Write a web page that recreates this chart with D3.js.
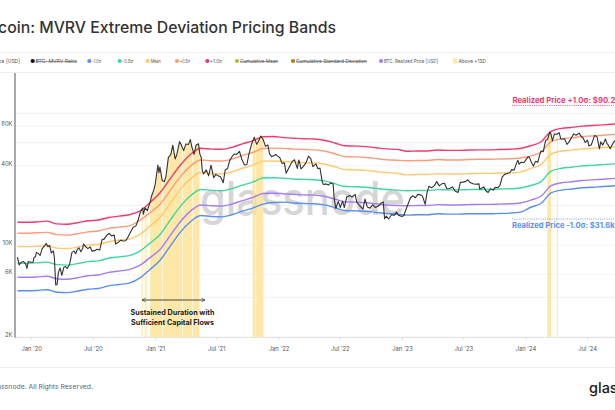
<!DOCTYPE html>
<html><head><meta charset="utf-8">
<script src="https://cdn.jsdelivr.net/npm/d3@7"></script>
<style>html,body{margin:0;padding:0;background:#fff;overflow:hidden}svg{display:block;font-family:Inter,"Noto Sans",sans-serif}</style>
</head><body><svg id="c" width="615" height="410"></svg>
<script>
// ---------------- DATA ----------------
const bandDates = ["2019-11-20","2019-12-15","2020-01-15","2020-02-15","2020-03-15","2020-04-15","2020-05-15","2020-06-15","2020-07-15","2020-08-15","2020-09-15","2020-10-15","2020-11-15","2020-12-15","2021-01-15","2021-02-15","2021-03-15","2021-04-15","2021-05-15","2021-06-15","2021-07-15","2021-08-15","2021-09-15","2021-10-15","2021-11-15","2021-12-15","2022-01-15","2022-02-15","2022-03-15","2022-04-15","2022-05-15","2022-06-15","2022-07-15","2022-08-15","2022-09-15","2022-10-15","2022-11-15","2022-12-15","2023-01-15","2023-02-15","2023-03-15","2023-04-15","2023-05-15","2023-06-15","2023-07-15","2023-08-15","2023-09-15","2023-10-15","2023-11-15","2023-12-15","2024-01-15","2024-02-15","2024-03-15","2024-04-15","2024-05-15","2024-06-15","2024-07-15","2024-08-15","2024-09-25"];
// values in thousands of USD
const realizedPrice = [5.70,5.69, 5.72,5.80,5.55,5.50,5.65,5.85,5.92,6.20,6.35,6.50,7.00,8.00, 9.30,12.0,15.0,18.2,20.2,19.9,19.8,20.5,21.8,23.0,24.7,24.8, 24.6,24.3,24.1,24.0,23.5,22.4,21.3,21.2,21.0,20.6,20.2,20.0, 19.9,20.0,20.0,20.3,20.2,20.2,20.3,20.4,20.4,20.5,20.6,20.9, 22.0,23.6,28.3,29.8,30.3,31.0,31.3,31.7,32.2];
const plus1Sd = [14.9,14.9, 15.0,15.2,14.5,14.4,14.8,15.3,15.5,16.2,16.6,17.0,18.1,21.0, 25.1,32.4,40.5,49.1,54.5,53.7,53.5,55.4,58.9,62.1,66.7,67.0, 65.7,64.9,64.3,64.1,62.7,59.8,56.9,56.6,56.1,55.0,53.9,53.4, 51.7,52.0,52.0,52.8,52.5,52.5,52.8,53.0,53.0,53.3,53.6,54.3, 57.0,61.1,73.3,77.2,78.5,80.3,81.1,82.1,83.4];
const plusHalfSd = [12.3,12.3, 12.4,12.5,12.0,11.9,12.2,12.6,12.8,13.4,13.7,14.0,15.4,17.6, 20.5,26.4,33.0,40.0,44.4,43.8,43.6,45.1,48.0,50.6,54.3,54.6, 54.4,53.7,53.3,53.0,51.9,49.5,47.1,46.9,46.4,45.5,44.6,44.2, 43.8,44.0,44.0,44.7,44.4,44.4,44.7,44.9,44.9,45.1,45.3,46.0, 47.5,51.0,61.1,64.4,65.4,67.0,67.6,68.5,69.6];
const meanBand = [9.75,9.73, 9.78,9.92,9.49,9.41,9.66,10.0,10.1,10.6,10.9,11.1,12.0,13.9, 16.3,21.1,26.4,32.0,35.6,35.0,34.8,36.1,38.4,40.5,43.5,43.6, 43.3,42.8,42.4,42.2,41.4,39.4,37.5,37.3,37.0,36.3,35.6,35.2, 34.2,34.4,34.4,34.9,34.7,34.7,34.9,35.1,35.1,35.3,35.4,35.9, 38.3,41.1,49.2,51.9,52.7,53.9,54.5,55.2,56.0];
const minusHalfSd = [7.30,7.28, 7.32,7.42,7.10,7.04,7.23,7.49,7.58,7.94,8.13,8.32,8.96,10.3, 12.1,15.7,19.6,23.8,26.5,26.1,25.9,26.9,28.6,30.1,32.4,32.5, 32.2,31.8,31.6,31.4,30.8,29.3,27.9,27.8,27.5,27.0,26.5,26.2, 25.9,26.0,26.0,26.4,26.3,26.3,26.4,26.5,26.5,26.7,26.8,27.2, 28.4,30.4,36.5,38.4,39.1,40.0,40.4,40.9,41.5];
const minus1Sd = [4.50,4.50, 4.52,4.58,4.38,4.35,4.46,4.62,4.68,4.90,5.02,5.14,5.60,6.50, 7.70,9.96,12.5,15.1,16.8,16.5,16.4,17.0,18.1,19.1,20.5,21.1, 21.2,20.9,20.7,20.6,20.2,19.3,18.3,18.2,18.1,17.7,17.4,17.2, 16.9,17.0,17.0,17.3,17.2,17.2,17.3,17.3,17.3,17.4,17.5,17.8, 19.4,20.8,24.9,26.2,26.7,27.3,27.5,27.9,28.3];

const priceDates = ["2019-11-20","2019-11-25","2019-12-01","2019-12-08","2019-12-15","2019-12-18","2019-12-22","2019-12-29",
"2020-01-05","2020-01-08","2020-01-12","2020-01-15","2020-01-20","2020-01-26","2020-02-01","2020-02-08","2020-02-13","2020-02-18","2020-02-23","2020-02-28","2020-03-05","2020-03-08","2020-03-12","2020-03-16","2020-03-20","2020-03-25","2020-03-30","2020-04-05","2020-04-10","2020-04-15","2020-04-22","2020-04-29","2020-05-05","2020-05-10","2020-05-15","2020-05-20","2020-05-25","2020-05-31","2020-06-02","2020-06-08","2020-06-15","2020-06-22","2020-06-27","2020-07-05","2020-07-12","2020-07-20","2020-07-27","2020-08-02","2020-08-10","2020-08-17","2020-08-24","2020-09-01","2020-09-05","2020-09-12","2020-09-20","2020-09-27","2020-10-05","2020-10-12","2020-10-21","2020-10-27","2020-11-04","2020-11-10","2020-11-17","2020-11-24","2020-11-26","2020-12-01","2020-12-08","2020-12-16","2020-12-20","2020-12-27","2020-12-31",
"2021-01-03","2021-01-08","2021-01-11","2021-01-14","2021-01-21","2021-01-27","2021-02-01","2021-02-08","2021-02-15","2021-02-21","2021-02-28","2021-03-05","2021-03-13","2021-03-18","2021-03-25","2021-04-01","2021-04-08","2021-04-14","2021-04-18","2021-04-25","2021-05-01","2021-05-08","2021-05-12","2021-05-16","2021-05-19","2021-05-23","2021-05-31","2021-06-07","2021-06-14","2021-06-22","2021-06-28","2021-07-05","2021-07-12","2021-07-20","2021-07-26","2021-08-02","2021-08-08","2021-08-15","2021-08-22","2021-08-29","2021-09-06","2021-09-13","2021-09-21","2021-09-28","2021-10-04","2021-10-11","2021-10-15","2021-10-20","2021-10-27","2021-11-01","2021-11-08","2021-11-15","2021-11-22","2021-11-29","2021-12-04","2021-12-10","2021-12-16","2021-12-22","2021-12-28",
"2022-01-03","2022-01-10","2022-01-17","2022-01-22","2022-01-28","2022-02-05","2022-02-10","2022-02-16","2022-02-24","2022-03-01","2022-03-07","2022-03-14","2022-03-22","2022-03-29","2022-04-05","2022-04-11","2022-04-20","2022-04-26","2022-05-02","2022-05-09","2022-05-12","2022-05-20","2022-05-27","2022-06-03","2022-06-10","2022-06-13","2022-06-18","2022-06-25","2022-07-01","2022-07-08","2022-07-13","2022-07-20","2022-07-28","2022-08-05","2022-08-14","2022-08-19","2022-08-27","2022-09-06","2022-09-12","2022-09-19","2022-09-27","2022-10-05","2022-10-13","2022-10-25","2022-10-29","2022-11-05","2022-11-09","2022-11-14","2022-11-21","2022-11-30","2022-12-07","2022-12-14","2022-12-20","2022-12-30",
"2023-01-05","2023-01-12","2023-01-18","2023-01-25","2023-02-01","2023-02-08","2023-02-15","2023-02-22","2023-03-01","2023-03-09","2023-03-14","2023-03-20","2023-03-28","2023-04-05","2023-04-12","2023-04-20","2023-04-28","2023-05-05","2023-05-12","2023-05-20","2023-05-29","2023-06-05","2023-06-14","2023-06-21","2023-06-28","2023-07-06","2023-07-13","2023-07-20","2023-07-28","2023-08-05","2023-08-15","2023-08-17","2023-08-29","2023-09-05","2023-09-11","2023-09-18","2023-09-26","2023-10-02","2023-10-10","2023-10-16","2023-10-23","2023-10-30","2023-11-06","2023-11-14","2023-11-20","2023-11-27","2023-12-04","2023-12-08","2023-12-11","2023-12-18","2023-12-26",
"2024-01-02","2024-01-08","2024-01-11","2024-01-16","2024-01-23","2024-01-29","2024-02-05","2024-02-09","2024-02-14","2024-02-21","2024-02-28","2024-03-05","2024-03-11","2024-03-14","2024-03-19","2024-03-25","2024-04-01","2024-04-08","2024-04-13","2024-04-19","2024-04-24","2024-05-01","2024-05-08","2024-05-15","2024-05-21","2024-05-28","2024-06-06","2024-06-13","2024-06-18","2024-06-24","2024-07-01","2024-07-05","2024-07-12","2024-07-18","2024-07-22","2024-07-29","2024-08-05","2024-08-09","2024-08-15","2024-08-23","2024-08-27","2024-09-01","2024-09-06","2024-09-12","2024-09-18","2024-09-25"];
const priceValues = [8.1,7.05,7.4,7.5,7.1,6.65,7.5,7.4,
7.4,8.05,8.15,8.8,8.65,8.35,9.4,9.85,10.3,9.7,9.95,8.7,9.05,8.05,4.97,5.03,6.2,6.7,5.88,6.78,6.87,6.64,7.13,8.8,9.0,8.6,9.3,9.52,8.9,9.45,10.2,9.75,9.4,9.68,9.0,9.07,9.3,9.16,11.0,11.1,11.9,12.3,11.75,11.9,10.2,10.45,10.9,10.75,10.8,11.55,12.8,13.65,14.0,15.3,17.8,19.15,17.15,19.2,18.3,21.3,23.5,26.3,29.0,
32.8,40.6,35.5,39.2,30.8,30.4,33.5,46.4,48.7,57.5,45.2,48.9,61.2,57.9,52.3,58.8,58.1,63.5,56.2,49.0,57.8,58.9,49.2,46.4,37.0,34.7,37.3,33.6,40.5,32.5,34.5,33.7,33.1,29.8,37.3,38.2,43.9,47.0,49.3,48.9,51.7,44.9,40.6,41.0,49.1,57.4,61.6,66.0,58.4,61.3,67.5,63.6,56.3,57.8,49.4,47.1,47.7,48.8,47.5,
46.4,41.8,42.2,35.1,37.7,41.4,43.5,44.5,38.3,44.4,38.0,39.7,42.4,47.4,45.5,39.5,41.5,38.1,38.5,30.1,28.9,29.2,28.6,29.7,29.1,22.5,19.0,21.5,19.3,21.6,19.3,23.2,23.8,23.2,24.3,21.1,20.0,18.8,22.4,19.5,19.1,20.3,19.3,20.1,20.8,21.3,15.9,16.6,15.8,17.1,16.8,17.8,16.9,16.5,
16.8,18.9,20.7,23.0,23.7,22.9,24.3,24.2,23.6,20.4,24.7,28.0,27.3,28.2,30.4,28.2,29.3,29.5,26.8,26.9,27.7,25.8,25.1,30.0,30.1,30.4,31.4,29.9,29.3,29.0,29.2,26.6,27.7,25.8,25.1,26.8,26.2,27.5,27.4,28.5,33.0,34.5,35.0,35.5,37.5,37.2,42.0,44.2,41.2,42.7,42.5,
45.0,47.0,46.6,43.1,39.9,43.3,42.7,47.1,51.8,51.3,62.5,63.8,72.1,71.4,62.0,70.0,69.7,71.6,64.0,64.0,64.3,58.3,61.2,66.0,70.1,68.4,71.0,66.7,65.2,60.3,62.7,56.7,57.9,64.0,68.2,66.8,54.0,60.9,57.6,64.1,59.4,57.3,53.9,58.1,61.7,63.2];

// periods where price was above +1 SD (shaded)
const aboveSdStart = ["2020-11-21","2020-11-30","2020-12-05","2020-12-16","2021-01-22","2021-03-23","2021-04-22","2021-10-15","2021-10-24","2024-03-04","2024-04-01"];
const aboveSdEnd   = ["2020-11-24","2020-12-02","2020-12-07","2021-01-20","2021-03-21","2021-04-20","2021-05-11","2021-10-22","2021-11-16","2024-03-15","2024-04-02"];

const xTickDates = ["2020-01-01","2020-07-01","2021-01-01","2021-07-01","2022-01-01","2022-07-01","2023-01-01","2023-07-01","2024-01-01","2024-07-01"];
const yTickValues = [2, 6, 10, 40, 80];
const yGridValues = [2, 4, 6, 10, 20, 40, 60, 80, 100];

const legendLabels = ["BTC: Price [USD]","BTC: MVRV Ratio","-1.0σ","-0.5σ","Mean","+0.5σ","+1.0σ","Cumulative Mean","Cumulative Standard Deviation","BTC: Realized Price [USD]","Above +1SD"];

// ---------------- STYLE / LAYOUT ----------------
const C = {red:"#f4396c", orange:"#ff9b78", yellow:"#ffc96e", green:"#3fd6a2", purple:"#a57df3", blue:"#5b8ff0", price:"#333", shade:"#fde59f"};
const legendColors = ["#333","#111",C.blue,C.green,C.yellow,C.orange,C.red,"#a9c42b","#b27a25",C.purple,"#fdeab0"];
const legendDotX  = [-25,32.7,89.3,119.7,147.7,177,207.3,237,293,381,455.3];
const legendTextX = [-20,35.5,92,122.3,150.7,179.7,210,240,296,384,458.5];
const legendTextW = [40,41.5,9,11,10,10.3,12,38,71,54,27.5];
const legendStrike = [false,true,false,false,false,false,false,true,true,false,false];

const svg = d3.select("#c");
const pd = s => new Date(s + "T00:00:00Z");
const x = d3.scaleUtc().domain([pd("2020-01-01"), pd("2024-01-01")]).range([31.7, 526]);
const y = d3.scaleLog().domain([2, 200]).range([337, 74]);
const L = 15, R = 615, T = 74, B = 337;

// Title
svg.append("text").attr("x", 336).attr("y", 33).attr("text-anchor","end")
  .attr("font-size", 15.8).attr("font-weight", 500).attr("fill", "#333")
  .text("Bitcoin: MVRV Extreme Deviation Pricing Bands");

// Separators
svg.append("line").attr("x1",0).attr("x2",615).attr("y1",52.5).attr("y2",52.5).attr("stroke","#eee");
svg.append("line").attr("x1",0).attr("x2",615).attr("y1",72.5).attr("y2",72.5).attr("stroke","#eee");
svg.append("line").attr("x1",0).attr("x2",615).attr("y1",367.5).attr("y2",367.5).attr("stroke","#eee");

// Legend
const lg = svg.append("g").attr("font-size", 5.4).attr("fill", "#555");
legendLabels.forEach((lab, i) => {
  const cx = legendDotX[i];
  if (i === legendLabels.length - 1) {
    lg.append("rect").attr("x", cx - 2.5).attr("y", 58.5).attr("width", 5).attr("height", 5).attr("fill", legendColors[i]);
  } else {
    lg.append("circle").attr("cx", cx).attr("cy", 61).attr("r", 2.1).attr("fill", legendColors[i]);
  }
  const t = lg.append("text").attr("x", legendTextX[i]).attr("y", 63)
    .attr("textLength", legendTextW[i]).attr("lengthAdjust", "spacingAndGlyphs").text(lab);
  if (legendStrike[i]) t.attr("text-decoration", "line-through");
});

// Grid
const grid = svg.append("g");
yGridValues.forEach(v => {
  grid.append("line").attr("x1", L).attr("x2", R).attr("y1", y(v)).attr("y2", y(v)).attr("stroke", "#f0f0f0").attr("stroke-width", 0.8);
});
// Y tick labels
svg.append("g").selectAll("text").data(yTickValues).join("text")
  .attr("x", 12.5).attr("y", d => y(d) - 1.5).attr("text-anchor", "end").attr("dominant-baseline","middle")
  .attr("font-size", 5.8).attr("fill", "#555").text(d => d + "K");

// X axis
svg.append("line").attr("x1", L).attr("x2", R).attr("y1", B + 0.5).attr("y2", B + 0.5).attr("stroke", "#e4e4e4");
const xt = svg.append("g");
xTickDates.forEach(s => {
  const xx = x(pd(s));
  xt.append("line").attr("x1", xx).attr("x2", xx).attr("y1", B).attr("y2", B + 3).attr("stroke", "#ddd");
  xt.append("text").attr("x", xx).attr("y", 350.5).attr("text-anchor", "middle").attr("font-size", 5.8).attr("fill", "#555")
    .text(d3.utcFormat("%b '%y")(pd(s)));
});

// Clip
const defs = svg.append("defs");
defs.append("clipPath").attr("id", "plot").append("rect").attr("x", L).attr("y", T).attr("width", R - L).attr("height", B - T);
const shadeClip = defs.append("clipPath").attr("id", "shade");
aboveSdStart.forEach((s, i) => {
  const x0 = x(pd(s)), x1 = x(pd(aboveSdEnd[i]));
  shadeClip.append("rect").attr("x", x0).attr("y", T).attr("width", Math.max(1, x1 - x0)).attr("height", B - T);
});

const plot = svg.append("g").attr("clip-path", "url(#plot)");

// Watermark
plot.append("text").attr("x", 200).attr("y", 215).attr("font-size", 46).attr("font-weight", 500)
  .attr("fill", "#c9c9c9").attr("opacity", 0.75).attr("textLength", 205).attr("lengthAdjust","spacingAndGlyphs")
  .text("glassnode");

const price = priceDates.map((d, i) => ({date: pd(d), v: priceValues[i]}));

// Shading
plot.append("g").attr("clip-path", "url(#shade)").append("path")
  .datum(price)
  .attr("d", d3.area().x(d => x(d.date)).y0(B).y1(d => y(d.v)))
  .attr("fill", C.shade).attr("opacity", 0.9);

// Bands
const bands = [
  [minus1Sd, C.blue], [realizedPrice, C.purple], [minusHalfSd, C.green],
  [meanBand, C.yellow], [plusHalfSd, C.orange], [plus1Sd, C.red]
];
const bline = d3.line().x(d => x(d.date)).y(d => y(d.v)).curve(d3.curveMonotoneX);
bands.forEach(([vals, col]) => {
  plot.append("path").datum(bandDates.map((d, i) => ({date: pd(d), v: vals[i]})))
    .attr("d", bline).attr("fill", "none").attr("stroke", col).attr("stroke-width", 1.4);
});

// Price line
plot.append("path").datum(price)
  .attr("d", d3.line().x(d => x(d.date)).y(d => y(d.v)))
  .attr("fill", "none").attr("stroke", C.price).attr("stroke-width", 1.1).attr("stroke-linejoin","round");

// Annotations
defs.append("marker").attr("id","ah").attr("viewBox","0 0 10 10").attr("refX",9).attr("refY",5)
  .attr("markerWidth",5).attr("markerHeight",5).attr("orient","auto-start-reverse")
  .append("path").attr("d","M1,1 L9,5 L1,9").attr("fill","none").attr("stroke","#333").attr("stroke-width",1.5);
svg.append("line").attr("x1", 142).attr("x2", 205).attr("y1", 300).attr("y2", 300)
  .attr("stroke", "#333").attr("stroke-width", 0.9)
  .attr("marker-start","url(#ah)").attr("marker-end","url(#ah)");
svg.append("text").attr("x", 172.5).attr("y", 315).attr("text-anchor","middle").attr("font-size", 7.2)
  .attr("font-weight", 700).attr("fill", "#222").text("Sustained Duration with");
svg.append("text").attr("x", 172.5).attr("y", 324.5).attr("text-anchor","middle").attr("font-size", 7.2)
  .attr("font-weight", 700).attr("fill", "#222").text("Sufficient Capital Flows");

svg.append("text").attr("x", 512.5).attr("y", 103).attr("font-size", 7.7).attr("font-weight", 700)
  .attr("fill", C.red).text("Realized Price +1.0σ: $90.2k");
svg.append("line").attr("x1", 512).attr("x2", 615).attr("y1", 105.5).attr("y2", 105.5)
  .attr("stroke", C.red).attr("stroke-width", 0.8).attr("stroke-dasharray", "1,1.2");
svg.append("line").attr("x1", 512).attr("x2", 615).attr("y1", 219).attr("y2", 219)
  .attr("stroke", C.blue).attr("stroke-width", 0.8).attr("stroke-dasharray", "1,1.2");
svg.append("text").attr("x", 512).attr("y", 228).attr("font-size", 7.6).attr("font-weight", 700)
  .attr("fill", C.blue).text("Realized Price -1.0σ: $31.6k");

// Y axis line
svg.append("line").attr("x1", 15).attr("x2", 15).attr("y1", 73).attr("y2", 337.5).attr("stroke", "#7a7a7a").attr("stroke-width", 1.3);

// Footer
svg.append("text").attr("x", 93).attr("y", 389).attr("text-anchor","end").attr("font-size", 6.85).attr("fill", "#666")
  .text("© 2024 Glassnode. All Rights Reserved.");
svg.append("text").attr("x", 589).attr("y", 393).attr("font-size", 14.5).attr("font-weight", 500).attr("fill", "#1a1a1a")
  .text("glassnode");
</script></body></html>
